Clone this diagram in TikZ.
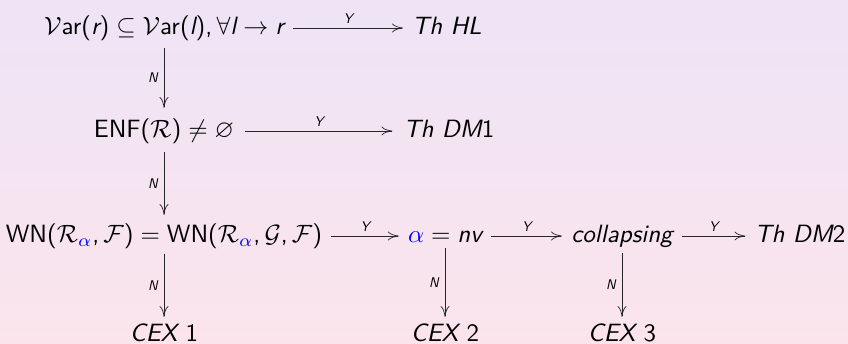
\RequirePackage{fix-cm}
\documentclass[tikz,border=0pt]{standalone}
\usepackage{amssymb}
\usetikzlibrary{arrows.meta}
\definecolor{bgtop}{RGB}{238,228,246}
\definecolor{bgbot}{RGB}{251,228,236}
\newcommand{\vi}[1]{\textsf{\itshape #1}}
\newcommand{\vu}[1]{\textsf{#1}}
\newcommand{\cm}{\mathpunct{\textsf{,}}}
\newcommand{\al}{{\color{blue}\alpha}}
\newcommand{\bx}[1]{\scalebox{2.5}{\fontsize{10}{12}\selectfont$#1$}}
\tikzset{
  ent/.style={inner sep=0pt, anchor=base},
  arr/.style={draw=black!85, line width=0.7pt, -{Computer Modern Rightarrow[length=11pt,width=9pt]}},
  lab/.style={font=\fontsize{14}{16}\selectfont\sffamily\itshape, inner sep=1pt},
}
\begin{document}
\begin{tikzpicture}[x=1pt,y=1pt]
\shade[top color=bgtop, bottom color=bgbot] (0,0) rectangle (848,344);
\useasboundingbox (0,0) rectangle (848,344);
% row 1
\node[ent] (v) at (164,309) {\bx{\mathcal{V}\vu{ar}\vu{(}\vi{r}\vu{)} \subseteq \mathcal{V}\vu{ar}\vu{(}\vi{l}\vu{)}\cm\forall \vi{l} \rightarrow \vi{r}}};
\node[ent] (thl) at (447,309) {\bx{\vi{Th}\ \vi{HL}}};
% row 2
\node[ent] (enf) at (164,206) {\bx{\vu{ENF}\vu{(}\mathcal{R}\vu{)} \neq \varnothing}};
\node[ent] (thdm1) at (449,206) {\bx{\vi{Th}\ \vi{DM}\vu{1}}};
% row 3
\node[ent] (wn) at (164,101) {\bx{\vu{WN}\vu{(}\mathcal{R}_{\al}\cm\mathcal{F}\vu{)} = \vu{WN}\vu{(}\mathcal{R}_{\al}\cm\mathcal{G}\cm\mathcal{F}\vu{)}}};
\node[ent] (anv) at (445,101) {\bx{\al = \vi{nv}}};
\node[ent] (col) at (622,101) {\bx{\vi{collapsing}}};
\node[ent] (thdm2) at (800,101) {\bx{\vi{Th}\ \vi{DM}\vu{2}}};
% row 4
\node[ent] (cex1) at (164,2) {\bx{\vi{CEX}\ \vu{1}}};
\node[ent] (cex2) at (445,2) {\bx{\vi{CEX}\ \vu{2}}};
\node[ent] (cex3) at (622,2) {\bx{\vi{CEX}\ \vu{3}}};
% horizontal arrows
\draw[arr] ([shift={(9pt,7pt)}]v.base east) -- node[lab, above=3pt] {Y} ([shift={(-9pt,7pt)}]thl.base west);
\draw[arr] ([shift={(11pt,7pt)}]enf.base east) -- node[lab, above=3pt] {Y} ([shift={(-11pt,7pt)}]thdm1.base west);
\draw[arr] ([shift={(9pt,7pt)}]wn.base east) -- node[lab, above=3pt] {Y} ([shift={(-9pt,7pt)}]anv.base west);
\draw[arr] ([shift={(9pt,7pt)}]anv.base east) -- node[lab, above=3pt] {Y} ([shift={(-9pt,7pt)}]col.base west);
\draw[arr] ([shift={(9pt,7pt)}]col.base east) -- node[lab, above=3pt] {Y} ([shift={(-9pt,7pt)}]thdm2.base west);
% vertical arrows
\draw[arr] ([yshift=-13pt]v.base) -- node[lab, left=5pt] {N} ([yshift=30pt]enf.base -| v.base);
\draw[arr] ([yshift=-14pt]enf.base) -- node[lab, left=5pt] {N} ([yshift=28pt]wn.base -| enf.base);
\draw[arr] ([yshift=-11pt]wn.base) -- node[lab, left=5pt] {N} ([yshift=25pt]cex1.base -| wn.base);
\draw[arr] ([yshift=-5pt]anv.base) -- node[lab, left=5pt] {N} ([yshift=25pt]cex2.base -| anv.base);
\draw[arr] ([yshift=-10pt]col.base) -- node[lab, left=5pt] {N} ([yshift=25pt]cex3.base -| col.base);
\end{tikzpicture}
\end{document}
